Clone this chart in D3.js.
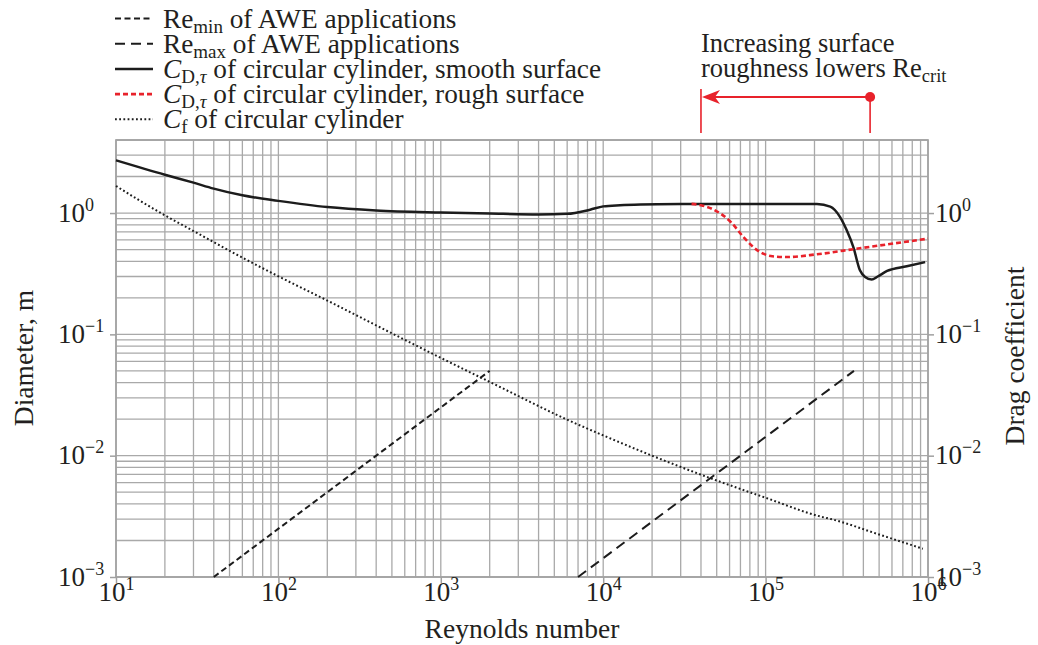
<!DOCTYPE html>
<html>
<head>
<meta charset="utf-8">
<script src="https://cdn.jsdelivr.net/npm/d3@7"></script>
<style>
  body { margin: 0; background: #fff; }
  text { font-family: "Liberation Serif", "Times New Roman", serif; fill: #231f20; }
</style>
</head>
<body>
<svg id="chart" width="1038" height="645"></svg>
<script>
// Re-D lines of AWE applications [Re, diameter m]
var reMinLine = [[40, 0.001], [2000, 0.05]];
var reMaxLine = [[7000, 0.001], [350000, 0.05]];

// drag coefficients [Re, coefficient]
var cdSmooth = [[10, 2.72], [20, 2.07], [30, 1.78], [40, 1.59], [60, 1.4], [100, 1.26], [200, 1.12],
  [400, 1.05], [1000, 1.01], [2000, 0.99], [4000, 0.975], [6000, 0.985], [8300, 1.066], [10000, 1.135],
  [12700, 1.16], [17000, 1.175], [30000, 1.185], [100000, 1.19], [207000, 1.185], [250000, 1.13],
  [287000, 0.93], [316000, 0.72], [347000, 0.524], [381000, 0.337], [410000, 0.297], [450000, 0.283],
  [490000, 0.30], [560000, 0.333], [740000, 0.364], [960000, 0.394]];
var cdRough = [[35000, 1.19], [40000, 1.16], [47700, 1.07], [61800, 0.83], [73000, 0.634], [92500, 0.477],
  [110000, 0.44], [135000, 0.434], [207000, 0.457], [363000, 0.508], [1000000, 0.615]];
var cfCylinder = [[10, 1.67], [20, 0.957], [30, 0.711], [60, 0.429], [100, 0.301], [200, 0.19],
  [500, 0.102], [1000, 0.064], [2300, 0.037], [6000, 0.0198], [10000, 0.0147], [20000, 0.0100],
  [43300, 0.0067], [100000, 0.0045], [216000, 0.00316], [261000, 0.00297], [500000, 0.00224],
  [930000, 0.00171]];

// critical Reynolds numbers (rough, smooth) for the annotation arrow
var reCrit = [40000, 440000];

var xTickValues = [1e1, 1e2, 1e3, 1e4, 1e5, 1e6];
var yTickValues = [1e-3, 1e-2, 1e-1, 1e0];

var legendLabels = [
  [['Re', ''], ['min', 'sub'], [' of AWE applications', '']],
  [['Re', ''], ['max', 'sub'], [' of AWE applications', '']],
  [['C', 'it'], ['D,', 'sub'], ['\u03c4', 'subit'], [' of circular cylinder, smooth surface', '']],
  [['C', 'it'], ['D,', 'sub'], ['\u03c4', 'subit'], [' of circular cylinder, rough surface', '']],
  [['C', 'it'], ['f', 'sub'], [' of circular cylinder', '']]
];

var svg = d3.select('#chart');
var m = { left: 116, right: 928, top: 140, bottom: 577 };
var x = d3.scaleLog().domain([10, 1e6]).range([m.left, m.right]);
var y = d3.scaleLog().domain([1e-3, 4]).range([m.bottom, m.top]);
var line = d3.line().x(d => x(d[0])).y(d => y(d[1])).curve(d3.curveMonotoneX);
var red = '#e8222b', ink = '#1c1c1c', gridc = '#a9a9a9';

var styles = {
  reMin: { stroke: ink, 'stroke-width': 2, 'stroke-dasharray': '6,3.5' },
  reMax: { stroke: ink, 'stroke-width': 2, 'stroke-dasharray': '10,6' },
  smooth: { stroke: ink, 'stroke-width': 2.5 },
  rough: { stroke: red, 'stroke-width': 2.6, 'stroke-dasharray': '5,3' },
  cf: { stroke: ink, 'stroke-width': 2, 'stroke-dasharray': '1.8,2.4' }
};
function applyStyle(sel, s) { Object.keys(s).forEach(k => sel.attr(k, s[k])); sel.attr('fill', 'none'); return sel; }

/* grid */
var grid = svg.append('g');
grid.selectAll('line.v').data(x.ticks()).enter().append('line')
  .attr('x1', d => x(d)).attr('x2', d => x(d)).attr('y1', m.top).attr('y2', m.bottom)
  .attr('stroke', gridc).attr('stroke-width', 1.3);
grid.selectAll('line.h').data(y.ticks()).enter().append('line')
  .attr('x1', m.left).attr('x2', m.right).attr('y1', d => y(d)).attr('y2', d => y(d))
  .attr('stroke', gridc).attr('stroke-width', 1.3);
svg.append('rect').attr('x', m.left).attr('y', m.top).attr('width', m.right - m.left).attr('height', m.bottom - m.top)
  .attr('fill', 'none').attr('stroke', '#a3a3a3').attr('stroke-width', 1.7);

/* axes */
function powLabel(sel) {
  sel.each(function(d) {
    var t = d3.select(this), e = Math.round(Math.log10(d));
    t.text('');
    t.append('tspan').text('10');
    t.append('tspan').attr('dy', -11).attr('font-size', 18).text(e < 0 ? '\u2212' + (-e) : e);
  });
}
function styleAxis(g) {
  g.select('.domain').remove();
  g.selectAll('.tick line').attr('stroke', '#a0a0a0').attr('stroke-width', 1.5);
  g.selectAll('text').attr('font-size', 27).attr('fill', '#231f20')
    .attr('font-family', '"Liberation Serif", "Times New Roman", serif');
}
var gx = svg.append('g').attr('transform', 'translate(0,' + m.bottom + ')')
  .call(d3.axisBottom(x).tickValues(xTickValues).tickSize(6));
styleAxis(gx);
gx.selectAll('text').attr('y', 24).attr('dy', 0).call(powLabel);

var gl = svg.append('g').attr('transform', 'translate(' + m.left + ',0)')
  .call(d3.axisLeft(y).tickValues(yTickValues).tickSize(6));
styleAxis(gl);
gl.selectAll('text').attr('x', -58).attr('text-anchor', 'start').attr('dy', 8).call(powLabel);

var gr = svg.append('g').attr('transform', 'translate(' + m.right + ',0)')
  .call(d3.axisRight(y).tickValues(yTickValues).tickSize(6));
styleAxis(gr);
gr.selectAll('text').attr('x', 7).attr('dy', 8).call(powLabel);

/* axis titles */
svg.append('text').attr('transform', 'translate(33,358) rotate(-90)').attr('text-anchor', 'middle')
  .attr('font-size', 27.5).text('Diameter, m');
svg.append('text').attr('transform', 'translate(1024,356) rotate(-90)').attr('text-anchor', 'middle')
  .attr('font-size', 27.5).text('Drag coefficient');
svg.append('text').attr('x', 522).attr('y', 638).attr('text-anchor', 'middle')
  .attr('font-size', 27.5).text('Reynolds number');

/* curves */
var plot = svg.append('g');
applyStyle(plot.append('path').attr('d', line(reMinLine)), styles.reMin);
applyStyle(plot.append('path').attr('d', line(reMaxLine)), styles.reMax);
applyStyle(plot.append('path').attr('d', line(cfCylinder)), styles.cf);
applyStyle(plot.append('path').attr('d', line(cdSmooth)), styles.smooth);
applyStyle(plot.append('path').attr('d', line(cdRough)), styles.rough);

/* legend */
var legendKeys = ['reMin', 'reMax', 'smooth', 'rough', 'cf'];
var legend = svg.append('g');
legendKeys.forEach((k, i) => {
  var ly = 18.5 + i * 25.2;
  applyStyle(legend.append('line').attr('x1', 115).attr('x2', 153).attr('y1', ly).attr('y2', ly), styles[k]);
  var t = legend.append('text').attr('x', 163).attr('y', ly + 9).attr('font-size', 27.3);
  var shift = 0;
  legendLabels[i].forEach(p => {
    var sp = t.append('tspan').text(p[0]);
    var sub = p[1].indexOf('sub') === 0;
    if (sub) { sp.attr('font-size', 19); if (shift === 0) { sp.attr('dy', 5); shift = 5; } }
    else if (shift) { sp.attr('dy', -shift); shift = 0; }
    if (p[1].indexOf('it') >= 0) sp.attr('font-style', 'italic');
  });
});

/* annotation */
var ann = svg.append('g');
ann.append('text').attr('x', 701).attr('y', 52).attr('font-size', 26.5).text('Increasing surface');
var t2 = ann.append('text').attr('x', 701).attr('y', 77).attr('font-size', 26.5);
t2.append('tspan').text('roughness lowers Re');
t2.append('tspan').attr('dy', 5).attr('font-size', 18.5).text('crit');
var xa = x(reCrit[0]), xb = x(reCrit[1]), ay = 97;
ann.append('line').attr('x1', xa).attr('x2', xa).attr('y1', 89).attr('y2', 133).attr('stroke', red).attr('stroke-width', 1.6);
ann.append('line').attr('x1', xb).attr('x2', xb).attr('y1', ay).attr('y2', 133).attr('stroke', red).attr('stroke-width', 1.6);
ann.append('line').attr('x1', xa + 12).attr('x2', xb).attr('y1', ay).attr('y2', ay).attr('stroke', red).attr('stroke-width', 2.2);
ann.append('path').attr('d', 'M' + (xa + 1) + ',' + ay + 'L' + (xa + 19) + ',' + (ay - 7) + 'L' + (xa + 14) + ',' + ay + 'L' + (xa + 19) + ',' + (ay + 7) + 'Z')
  .attr('fill', red);
ann.append('circle').attr('cx', xb).attr('cy', ay).attr('r', 5).attr('fill', red);
</script>
</body>
</html>
